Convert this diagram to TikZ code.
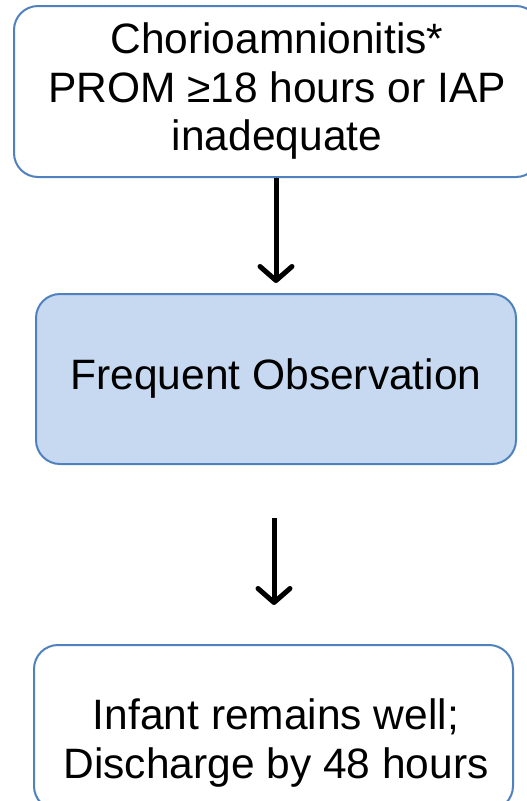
\documentclass[tikz,border=0pt]{standalone}
\usepackage{fontspec}
\setmainfont{Liberation Sans}
\usetikzlibrary{arrows.meta,positioning}
\definecolor{boxline}{RGB}{79,129,189}
\definecolor{boxfill}{RGB}{198,217,241}
\tikzset{
    flowbox/.style={draw=boxline, line width=2pt, rounded corners=24pt, align=center},
    flowtext/.style={align=center, font=\fontsize{42.5}{48.5}\selectfont},
    flowarrow/.style={line width=5pt, -{Straight Barb[length=14pt,width=32pt,round]}}
}
\begin{document}
\begin{tikzpicture}[x=1pt, y=-1pt]
        \useasboundingbox (0,0) rectangle (527,801);
        \clip (0,0) rectangle (527,801);
        % risk factors (box runs past the right edge)
        \node[flowbox, flowtext, fill=white, minimum width=526pt, minimum height=171pt] (risk) at (277,91.5)
            {Chorioamnionitis*\\PROM ≥18 hours or IAP\\inadequate};
        % observation
        \node[flowbox, flowtext, fill=boxfill, minimum width=480pt, minimum height=170pt] (observe) at (276,379)
            {Frequent Observation};
        % outcome (box runs past the bottom edge)
        \node[flowbox, fill=white, minimum width=479pt, minimum height=165pt] (well) at (273.5,727.5) {};
        \node[flowtext] (welltext) at (276,743) {Infant remains well;\\Discharge by 48 hours};
        % arrows
        \coordinate (obsin) at (276,283);
        \coordinate (obsout) at (274,518);
        \coordinate (wellin) at (274,605);
        \draw[flowarrow] (risk.south -| obsin) -- (obsin);
        \draw[flowarrow] (obsout) -- (wellin);
    \end{tikzpicture}
\end{document}
